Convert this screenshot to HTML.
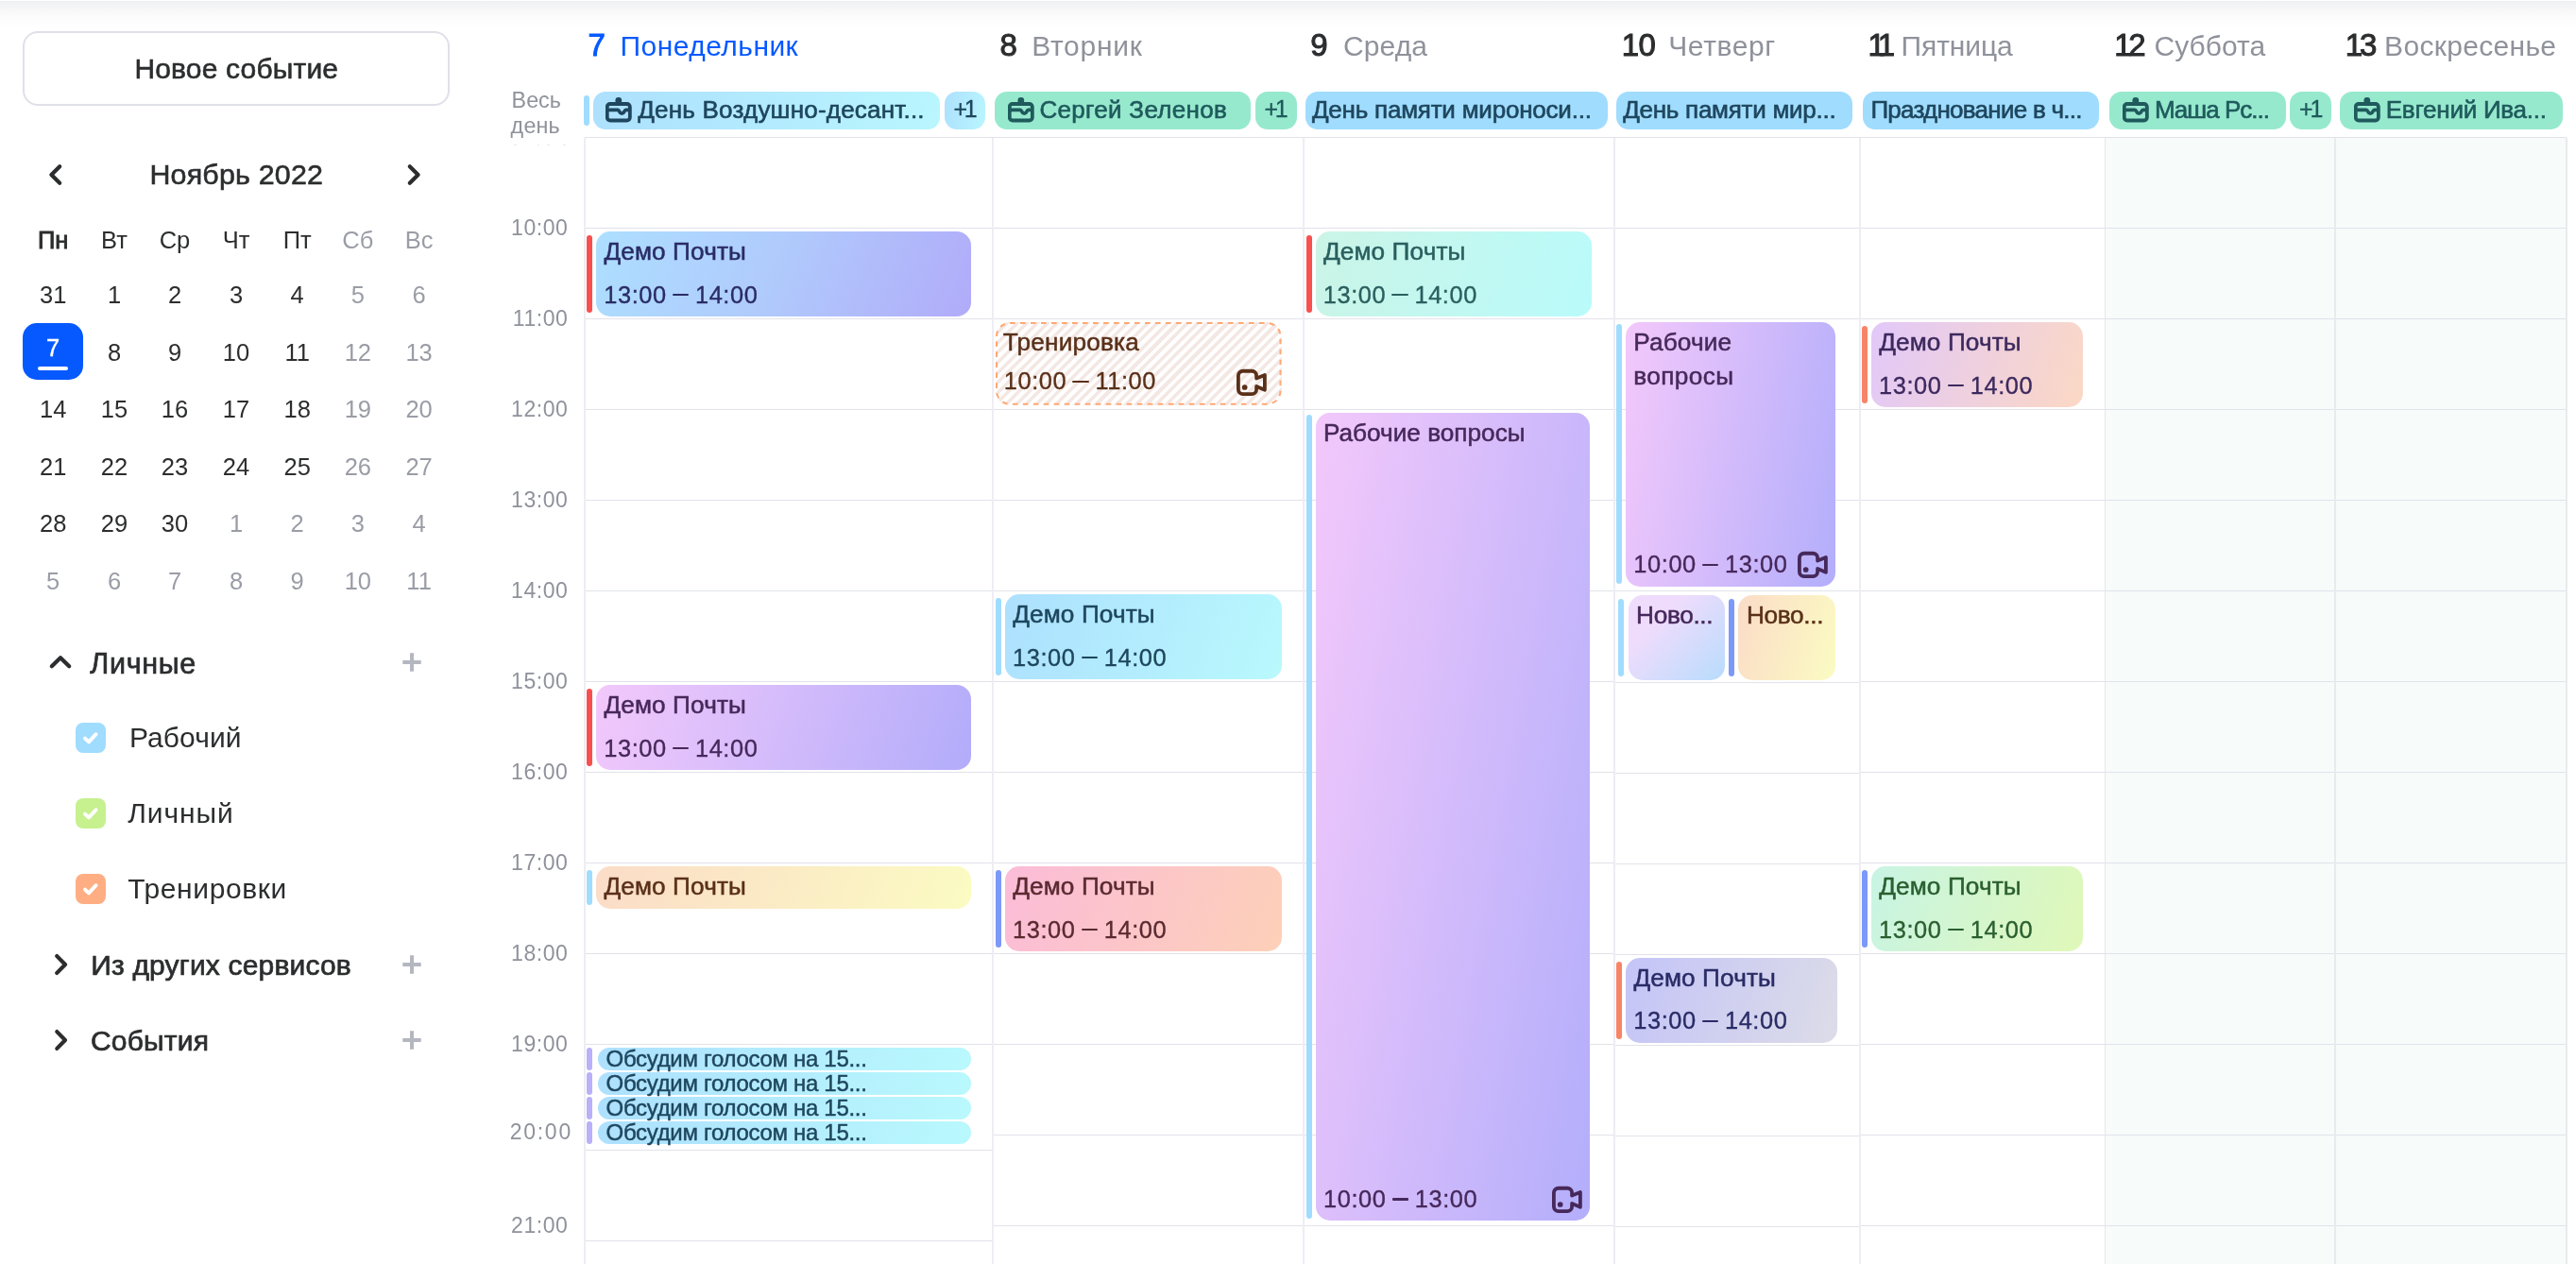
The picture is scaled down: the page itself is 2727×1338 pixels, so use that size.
<!DOCTYPE html>
<html lang="ru"><head><meta charset="utf-8"><title>Календарь</title>
<style>
html,body{margin:0;padding:0;background:#fff;}
body{width:2727px;height:1338px;position:relative;overflow:hidden;font-family:"Liberation Sans",sans-serif;}
#app{position:absolute;left:0;top:0;width:2727px;height:1338px;overflow:hidden;background:#fff;will-change:transform;}
.b{position:absolute;display:block;}
.t{position:absolute;white-space:nowrap;}
.d{display:inline-block;width:17.4px;height:2.3px;margin:0 6.6px 0 6.2px;background:currentColor;vertical-align:0.29em;border-radius:1px;}
</style></head><body>
<div id="app">
<div class="b" style="left:0.00px;top:1.00px;width:2727.00px;height:28.00px;background:linear-gradient(180deg,#eff0f1 0%,#f3f4f5 15%,#f7f7f8 33%,#fbfbfb 54%,#fdfdfd 80%,#ffffff 100%);"></div>
<div class="b" style="left:24.00px;top:33.00px;width:452.00px;height:79.00px;box-sizing:border-box;border:2px solid #dfe0e8;border-radius:16px;background:#fff;"></div>
<div class="t" style="top:57.61px;font-size:30px;line-height:30px;color:#2c2d2e;-webkit-text-stroke:0.6px #2c2d2e;letter-spacing:0.166px;left:-249.72px;width:1000px;text-align:center;">Новое событие</div>
<div class="t" style="top:169.27px;font-size:30.4px;line-height:30.4px;color:#2c2d2e;-webkit-text-stroke:0.6px #2c2d2e;letter-spacing:0.207px;left:-249.70px;width:1000px;text-align:center;">Ноябрь 2022</div>
<svg class="b" style="left:46px;top:171px" width="26" height="28" viewBox="0 0 26 28"><path d="M17.2 5.3 L8.4 14 L17.2 22.7" fill="none" stroke="#2c2d2e" stroke-width="4.2" stroke-linecap="round" stroke-linejoin="round"/></svg>
<svg class="b" style="left:425px;top:171px" width="26" height="28" viewBox="0 0 26 28"><path d="M8.8 5.3 L17.6 14 L8.8 22.7" fill="none" stroke="#2c2d2e" stroke-width="4.2" stroke-linecap="round" stroke-linejoin="round"/></svg>
<div class="t" style="top:241.61px;font-size:25.5px;line-height:25.5px;color:#2c2d2e;-webkit-text-stroke:0.9px #2c2d2e;left:-443.80px;width:1000px;text-align:center;">Пн</div>
<div class="t" style="top:241.61px;font-size:25.5px;line-height:25.5px;color:#2c2d2e;left:-379.00px;width:1000px;text-align:center;">Вт</div>
<div class="t" style="top:241.61px;font-size:25.5px;line-height:25.5px;color:#2c2d2e;left:-315.00px;width:1000px;text-align:center;">Ср</div>
<div class="t" style="top:241.61px;font-size:25.5px;line-height:25.5px;color:#2c2d2e;left:-250.00px;width:1000px;text-align:center;">Чт</div>
<div class="t" style="top:241.61px;font-size:25.5px;line-height:25.5px;color:#2c2d2e;left:-185.30px;width:1000px;text-align:center;">Пт</div>
<div class="t" style="top:241.61px;font-size:25.5px;line-height:25.5px;color:#9a9da6;left:-121.20px;width:1000px;text-align:center;">Сб</div>
<div class="t" style="top:241.61px;font-size:25.5px;line-height:25.5px;color:#9a9da6;left:-56.40px;width:1000px;text-align:center;">Вс</div>
<div class="b" style="left:24.00px;top:342.00px;width:64.00px;height:60.00px;background:#0559ff;border-radius:15px;"></div>
<div class="b" style="left:40.00px;top:388.00px;width:32.00px;height:3.50px;background:#fff;border-radius:2px;"></div>
<div class="t" style="top:300.01px;font-size:25.5px;line-height:25.5px;color:#2c2d2e;left:-443.80px;width:1000px;text-align:center;">31</div>
<div class="t" style="top:300.01px;font-size:25.5px;line-height:25.5px;color:#2c2d2e;left:-379.00px;width:1000px;text-align:center;">1</div>
<div class="t" style="top:300.01px;font-size:25.5px;line-height:25.5px;color:#2c2d2e;left:-315.00px;width:1000px;text-align:center;">2</div>
<div class="t" style="top:300.01px;font-size:25.5px;line-height:25.5px;color:#2c2d2e;left:-250.00px;width:1000px;text-align:center;">3</div>
<div class="t" style="top:300.01px;font-size:25.5px;line-height:25.5px;color:#2c2d2e;left:-185.30px;width:1000px;text-align:center;">4</div>
<div class="t" style="top:300.01px;font-size:25.5px;line-height:25.5px;color:#9a9da6;left:-121.20px;width:1000px;text-align:center;">5</div>
<div class="t" style="top:300.01px;font-size:25.5px;line-height:25.5px;color:#9a9da6;left:-56.40px;width:1000px;text-align:center;">6</div>
<div class="t" style="top:356.01px;font-size:25.5px;line-height:25.5px;color:#ffffff;-webkit-text-stroke:0.4px #ffffff;left:-443.80px;width:1000px;text-align:center;">7</div>
<div class="t" style="top:360.51px;font-size:25.5px;line-height:25.5px;color:#2c2d2e;left:-379.00px;width:1000px;text-align:center;">8</div>
<div class="t" style="top:360.51px;font-size:25.5px;line-height:25.5px;color:#2c2d2e;left:-315.00px;width:1000px;text-align:center;">9</div>
<div class="t" style="top:360.51px;font-size:25.5px;line-height:25.5px;color:#2c2d2e;left:-250.00px;width:1000px;text-align:center;">10</div>
<div class="t" style="top:360.51px;font-size:25.5px;line-height:25.5px;color:#2c2d2e;left:-185.30px;width:1000px;text-align:center;">11</div>
<div class="t" style="top:360.51px;font-size:25.5px;line-height:25.5px;color:#9a9da6;left:-121.20px;width:1000px;text-align:center;">12</div>
<div class="t" style="top:360.51px;font-size:25.5px;line-height:25.5px;color:#9a9da6;left:-56.40px;width:1000px;text-align:center;">13</div>
<div class="t" style="top:421.01px;font-size:25.5px;line-height:25.5px;color:#2c2d2e;left:-443.80px;width:1000px;text-align:center;">14</div>
<div class="t" style="top:421.01px;font-size:25.5px;line-height:25.5px;color:#2c2d2e;left:-379.00px;width:1000px;text-align:center;">15</div>
<div class="t" style="top:421.01px;font-size:25.5px;line-height:25.5px;color:#2c2d2e;left:-315.00px;width:1000px;text-align:center;">16</div>
<div class="t" style="top:421.01px;font-size:25.5px;line-height:25.5px;color:#2c2d2e;left:-250.00px;width:1000px;text-align:center;">17</div>
<div class="t" style="top:421.01px;font-size:25.5px;line-height:25.5px;color:#2c2d2e;left:-185.30px;width:1000px;text-align:center;">18</div>
<div class="t" style="top:421.01px;font-size:25.5px;line-height:25.5px;color:#9a9da6;left:-121.20px;width:1000px;text-align:center;">19</div>
<div class="t" style="top:421.01px;font-size:25.5px;line-height:25.5px;color:#9a9da6;left:-56.40px;width:1000px;text-align:center;">20</div>
<div class="t" style="top:481.51px;font-size:25.5px;line-height:25.5px;color:#2c2d2e;left:-443.80px;width:1000px;text-align:center;">21</div>
<div class="t" style="top:481.51px;font-size:25.5px;line-height:25.5px;color:#2c2d2e;left:-379.00px;width:1000px;text-align:center;">22</div>
<div class="t" style="top:481.51px;font-size:25.5px;line-height:25.5px;color:#2c2d2e;left:-315.00px;width:1000px;text-align:center;">23</div>
<div class="t" style="top:481.51px;font-size:25.5px;line-height:25.5px;color:#2c2d2e;left:-250.00px;width:1000px;text-align:center;">24</div>
<div class="t" style="top:481.51px;font-size:25.5px;line-height:25.5px;color:#2c2d2e;left:-185.30px;width:1000px;text-align:center;">25</div>
<div class="t" style="top:481.51px;font-size:25.5px;line-height:25.5px;color:#9a9da6;left:-121.20px;width:1000px;text-align:center;">26</div>
<div class="t" style="top:481.51px;font-size:25.5px;line-height:25.5px;color:#9a9da6;left:-56.40px;width:1000px;text-align:center;">27</div>
<div class="t" style="top:542.01px;font-size:25.5px;line-height:25.5px;color:#2c2d2e;left:-443.80px;width:1000px;text-align:center;">28</div>
<div class="t" style="top:542.01px;font-size:25.5px;line-height:25.5px;color:#2c2d2e;left:-379.00px;width:1000px;text-align:center;">29</div>
<div class="t" style="top:542.01px;font-size:25.5px;line-height:25.5px;color:#2c2d2e;left:-315.00px;width:1000px;text-align:center;">30</div>
<div class="t" style="top:542.01px;font-size:25.5px;line-height:25.5px;color:#9a9da6;left:-250.00px;width:1000px;text-align:center;">1</div>
<div class="t" style="top:542.01px;font-size:25.5px;line-height:25.5px;color:#9a9da6;left:-185.30px;width:1000px;text-align:center;">2</div>
<div class="t" style="top:542.01px;font-size:25.5px;line-height:25.5px;color:#9a9da6;left:-121.20px;width:1000px;text-align:center;">3</div>
<div class="t" style="top:542.01px;font-size:25.5px;line-height:25.5px;color:#9a9da6;left:-56.40px;width:1000px;text-align:center;">4</div>
<div class="t" style="top:602.51px;font-size:25.5px;line-height:25.5px;color:#9a9da6;left:-443.80px;width:1000px;text-align:center;">5</div>
<div class="t" style="top:602.51px;font-size:25.5px;line-height:25.5px;color:#9a9da6;left:-379.00px;width:1000px;text-align:center;">6</div>
<div class="t" style="top:602.51px;font-size:25.5px;line-height:25.5px;color:#9a9da6;left:-315.00px;width:1000px;text-align:center;">7</div>
<div class="t" style="top:602.51px;font-size:25.5px;line-height:25.5px;color:#9a9da6;left:-250.00px;width:1000px;text-align:center;">8</div>
<div class="t" style="top:602.51px;font-size:25.5px;line-height:25.5px;color:#9a9da6;left:-185.30px;width:1000px;text-align:center;">9</div>
<div class="t" style="top:602.51px;font-size:25.5px;line-height:25.5px;color:#9a9da6;left:-121.20px;width:1000px;text-align:center;">10</div>
<div class="t" style="top:602.51px;font-size:25.5px;line-height:25.5px;color:#9a9da6;left:-56.40px;width:1000px;text-align:center;">11</div>
<svg class="b" style="left:50px;top:686.9px" width="28" height="28" viewBox="0 0 28 28"><path d="M4.8 18.3 L14 9.2 L23.2 18.3" fill="none" stroke="#2c2d2e" stroke-width="4.2" stroke-linecap="round" stroke-linejoin="round"/></svg>
<div class="t" style="top:686.78px;font-size:30.5px;line-height:30.5px;color:#2c2d2e;-webkit-text-stroke:0.7px #2c2d2e;letter-spacing:0.652px;left:95.33px;">Личные</div>
<svg class="b" style="left:423.7px;top:689px" width="24" height="24" viewBox="0 0 24 24"><path d="M12 2.3 V21.7 M2.3 12 H21.7" fill="none" stroke="#b4b6c0" stroke-width="4" stroke-linecap="butt"/></svg>
<div class="b" style="left:80.00px;top:765.00px;width:32.00px;height:32.00px;background:#a0dcfe;border-radius:8px;"></div>
<svg class="b" style="left:80px;top:765px" width="32" height="32" viewBox="0 0 32 32"><path d="M10 16.6 L14 20.4 L21.6 12.2" fill="none" stroke="#fff" stroke-width="3.9" stroke-linecap="round" stroke-linejoin="round"/></svg>
<div class="t" style="top:765.61px;font-size:30px;line-height:30px;color:#2c2d2e;letter-spacing:0.091px;left:136.95px;">Рабочий</div>
<div class="b" style="left:80.00px;top:845.00px;width:32.00px;height:32.00px;background:#c6f18e;border-radius:8px;"></div>
<svg class="b" style="left:80px;top:845px" width="32" height="32" viewBox="0 0 32 32"><path d="M10 16.6 L14 20.4 L21.6 12.2" fill="none" stroke="#fff" stroke-width="3.9" stroke-linecap="round" stroke-linejoin="round"/></svg>
<div class="t" style="top:845.61px;font-size:30px;line-height:30px;color:#2c2d2e;letter-spacing:0.887px;left:135.25px;">Личный</div>
<div class="b" style="left:80.00px;top:925.00px;width:32.00px;height:32.00px;background:#ffae84;border-radius:8px;"></div>
<svg class="b" style="left:80px;top:925px" width="32" height="32" viewBox="0 0 32 32"><path d="M10 16.6 L14 20.4 L21.6 12.2" fill="none" stroke="#fff" stroke-width="3.9" stroke-linecap="round" stroke-linejoin="round"/></svg>
<div class="t" style="top:925.61px;font-size:30px;line-height:30px;color:#2c2d2e;letter-spacing:0.619px;left:135.25px;">Тренировки</div>
<svg class="b" style="left:50px;top:1007px" width="28" height="28" viewBox="0 0 28 28"><path d="M10.3 5.1 L19 14 L10.3 22.9" fill="none" stroke="#2c2d2e" stroke-width="4.2" stroke-linecap="round" stroke-linejoin="round"/></svg>
<div class="t" style="top:1006.61px;font-size:30px;line-height:30px;color:#2c2d2e;-webkit-text-stroke:0.7px #2c2d2e;letter-spacing:0.173px;left:96.25px;">Из других сервисов</div>
<svg class="b" style="left:423.7px;top:1009px" width="24" height="24" viewBox="0 0 24 24"><path d="M12 2.3 V21.7 M2.3 12 H21.7" fill="none" stroke="#b4b6c0" stroke-width="4" stroke-linecap="butt"/></svg>
<svg class="b" style="left:50px;top:1087px" width="28" height="28" viewBox="0 0 28 28"><path d="M10.3 5.1 L19 14 L10.3 22.9" fill="none" stroke="#2c2d2e" stroke-width="4.2" stroke-linecap="round" stroke-linejoin="round"/></svg>
<div class="t" style="top:1086.61px;font-size:30px;line-height:30px;color:#2c2d2e;-webkit-text-stroke:0.7px #2c2d2e;letter-spacing:0.210px;left:95.95px;">События</div>
<svg class="b" style="left:423.7px;top:1089px" width="24" height="24" viewBox="0 0 24 24"><path d="M12 2.3 V21.7 M2.3 12 H21.7" fill="none" stroke="#b4b6c0" stroke-width="4" stroke-linecap="butt"/></svg>
<div class="b" style="left:2228.00px;top:145.50px;width:488.50px;height:1192.50px;background:#f7fbfa;"></div>
<div class="b" style="left:619.00px;top:144.75px;width:432.00px;height:1.50px;background:#e2e3ea;"></div>
<div class="b" style="left:1051.00px;top:144.75px;width:657.50px;height:1.50px;background:#e2e3ea;"></div>
<div class="b" style="left:1708.50px;top:144.75px;width:260.00px;height:1.50px;background:#e2e3ea;"></div>
<div class="b" style="left:1968.50px;top:144.75px;width:748.00px;height:1.50px;background:#e2e3ea;"></div>
<div class="b" style="left:619.00px;top:240.75px;width:432.00px;height:1.50px;background:#e2e3ea;"></div>
<div class="b" style="left:1051.00px;top:240.75px;width:657.50px;height:1.50px;background:#e2e3ea;"></div>
<div class="b" style="left:1708.50px;top:240.75px;width:260.00px;height:1.50px;background:#e2e3ea;"></div>
<div class="b" style="left:1968.50px;top:240.75px;width:748.00px;height:1.50px;background:#e2e3ea;"></div>
<div class="b" style="left:619.00px;top:336.75px;width:432.00px;height:1.50px;background:#e2e3ea;"></div>
<div class="b" style="left:1051.00px;top:336.75px;width:657.50px;height:1.50px;background:#e2e3ea;"></div>
<div class="b" style="left:1708.50px;top:336.75px;width:260.00px;height:1.50px;background:#e2e3ea;"></div>
<div class="b" style="left:1968.50px;top:336.75px;width:748.00px;height:1.50px;background:#e2e3ea;"></div>
<div class="b" style="left:619.00px;top:432.75px;width:432.00px;height:1.50px;background:#e2e3ea;"></div>
<div class="b" style="left:1051.00px;top:432.75px;width:657.50px;height:1.50px;background:#e2e3ea;"></div>
<div class="b" style="left:1708.50px;top:432.75px;width:260.00px;height:1.50px;background:#e2e3ea;"></div>
<div class="b" style="left:1968.50px;top:432.75px;width:748.00px;height:1.50px;background:#e2e3ea;"></div>
<div class="b" style="left:619.00px;top:528.75px;width:432.00px;height:1.50px;background:#e2e3ea;"></div>
<div class="b" style="left:1051.00px;top:528.75px;width:657.50px;height:1.50px;background:#e2e3ea;"></div>
<div class="b" style="left:1708.50px;top:528.75px;width:260.00px;height:1.50px;background:#e2e3ea;"></div>
<div class="b" style="left:1968.50px;top:528.75px;width:748.00px;height:1.50px;background:#e2e3ea;"></div>
<div class="b" style="left:619.00px;top:624.75px;width:432.00px;height:1.50px;background:#e2e3ea;"></div>
<div class="b" style="left:1051.00px;top:624.75px;width:657.50px;height:1.50px;background:#e2e3ea;"></div>
<div class="b" style="left:1708.50px;top:624.75px;width:260.00px;height:1.50px;background:#e2e3ea;"></div>
<div class="b" style="left:1968.50px;top:624.75px;width:748.00px;height:1.50px;background:#e2e3ea;"></div>
<div class="b" style="left:619.00px;top:720.75px;width:432.00px;height:1.50px;background:#e2e3ea;"></div>
<div class="b" style="left:1051.00px;top:720.75px;width:657.50px;height:1.50px;background:#e2e3ea;"></div>
<div class="b" style="left:1708.50px;top:721.75px;width:260.00px;height:1.50px;background:#e2e3ea;"></div>
<div class="b" style="left:1968.50px;top:720.75px;width:748.00px;height:1.50px;background:#e2e3ea;"></div>
<div class="b" style="left:619.00px;top:816.75px;width:432.00px;height:1.50px;background:#e2e3ea;"></div>
<div class="b" style="left:1051.00px;top:816.75px;width:657.50px;height:1.50px;background:#e2e3ea;"></div>
<div class="b" style="left:1708.50px;top:817.75px;width:260.00px;height:1.50px;background:#e2e3ea;"></div>
<div class="b" style="left:1968.50px;top:816.75px;width:748.00px;height:1.50px;background:#e2e3ea;"></div>
<div class="b" style="left:619.00px;top:912.75px;width:432.00px;height:1.50px;background:#e2e3ea;"></div>
<div class="b" style="left:1051.00px;top:912.75px;width:657.50px;height:1.50px;background:#e2e3ea;"></div>
<div class="b" style="left:1708.50px;top:913.75px;width:260.00px;height:1.50px;background:#e2e3ea;"></div>
<div class="b" style="left:1968.50px;top:912.75px;width:748.00px;height:1.50px;background:#e2e3ea;"></div>
<div class="b" style="left:619.00px;top:1008.75px;width:432.00px;height:1.50px;background:#e2e3ea;"></div>
<div class="b" style="left:1051.00px;top:1008.75px;width:657.50px;height:1.50px;background:#e2e3ea;"></div>
<div class="b" style="left:1708.50px;top:1009.75px;width:260.00px;height:1.50px;background:#e2e3ea;"></div>
<div class="b" style="left:1968.50px;top:1008.75px;width:748.00px;height:1.50px;background:#e2e3ea;"></div>
<div class="b" style="left:619.00px;top:1104.75px;width:432.00px;height:1.50px;background:#e2e3ea;"></div>
<div class="b" style="left:1051.00px;top:1104.75px;width:657.50px;height:1.50px;background:#e2e3ea;"></div>
<div class="b" style="left:1708.50px;top:1105.75px;width:260.00px;height:1.50px;background:#e2e3ea;"></div>
<div class="b" style="left:1968.50px;top:1104.75px;width:748.00px;height:1.50px;background:#e2e3ea;"></div>
<div class="b" style="left:1051.00px;top:1200.75px;width:657.50px;height:1.50px;background:#e2e3ea;"></div>
<div class="b" style="left:1708.50px;top:1201.75px;width:260.00px;height:1.50px;background:#e2e3ea;"></div>
<div class="b" style="left:1968.50px;top:1200.75px;width:748.00px;height:1.50px;background:#e2e3ea;"></div>
<div class="b" style="left:1051.00px;top:1296.75px;width:657.50px;height:1.50px;background:#e2e3ea;"></div>
<div class="b" style="left:1708.50px;top:1297.75px;width:260.00px;height:1.50px;background:#e2e3ea;"></div>
<div class="b" style="left:1968.50px;top:1296.75px;width:748.00px;height:1.50px;background:#e2e3ea;"></div>
<div class="b" style="left:619.00px;top:1216.75px;width:432.00px;height:1.50px;background:#e2e3ea;"></div>
<div class="b" style="left:619.00px;top:1312.75px;width:432.00px;height:1.50px;background:#e2e3ea;"></div>
<div class="b" style="left:618.00px;top:145.50px;width:2.00px;height:1192.50px;background:#ededf3;"></div>
<div class="b" style="left:1050.00px;top:145.50px;width:2.00px;height:1192.50px;background:#ededf3;"></div>
<div class="b" style="left:1379.00px;top:145.50px;width:2.00px;height:1192.50px;background:#ededf3;"></div>
<div class="b" style="left:1707.50px;top:145.50px;width:2.00px;height:1192.50px;background:#ededf3;"></div>
<div class="b" style="left:1967.50px;top:145.50px;width:2.00px;height:1192.50px;background:#ededf3;"></div>
<div class="b" style="left:2228.00px;top:145.50px;width:1.20px;height:1192.50px;background:#e3e7ea;"></div>
<div class="b" style="left:2471.00px;top:145.50px;width:2.00px;height:1192.50px;background:#e8ebee;"></div>
<div class="b" style="left:2715.50px;top:145.50px;width:2.00px;height:1192.50px;background:#e8ebee;"></div>
<div class="t" style="top:94.88px;font-size:23.3px;line-height:23.3px;color:#8f929b;left:541.60px;">Весь</div>
<div class="t" style="top:122.28px;font-size:23.3px;line-height:23.3px;color:#8f929b;letter-spacing:0.200px;left:540.60px;">день</div>
<div class="b" style="left:543.80px;top:153.00px;width:3.00px;height:1.20px;background:#e6e7ea;border-radius:1px;"></div>
<div class="b" style="left:569.40px;top:153.00px;width:1.60px;height:1.20px;background:#e6e7ea;border-radius:1px;"></div>
<div class="b" style="left:579.40px;top:153.00px;width:3.00px;height:1.20px;background:#e6e7ea;border-radius:1px;"></div>
<div class="b" style="left:595.90px;top:153.00px;width:3.00px;height:1.20px;background:#e6e7ea;border-radius:1px;"></div>
<div class="t" style="top:230.13px;font-size:23px;line-height:23px;color:#8f929b;letter-spacing:0.550px;left:-398.65px;width:1000px;text-align:right;">10:00</div>
<div class="t" style="top:326.13px;font-size:23px;line-height:23px;color:#8f929b;letter-spacing:0.550px;left:-398.65px;width:1000px;text-align:right;">11:00</div>
<div class="t" style="top:422.13px;font-size:23px;line-height:23px;color:#8f929b;letter-spacing:0.550px;left:-398.65px;width:1000px;text-align:right;">12:00</div>
<div class="t" style="top:518.13px;font-size:23px;line-height:23px;color:#8f929b;letter-spacing:0.550px;left:-398.65px;width:1000px;text-align:right;">13:00</div>
<div class="t" style="top:614.13px;font-size:23px;line-height:23px;color:#8f929b;letter-spacing:0.550px;left:-398.65px;width:1000px;text-align:right;">14:00</div>
<div class="t" style="top:710.13px;font-size:23px;line-height:23px;color:#8f929b;letter-spacing:0.550px;left:-398.65px;width:1000px;text-align:right;">15:00</div>
<div class="t" style="top:806.13px;font-size:23px;line-height:23px;color:#8f929b;letter-spacing:0.550px;left:-398.65px;width:1000px;text-align:right;">16:00</div>
<div class="t" style="top:902.13px;font-size:23px;line-height:23px;color:#8f929b;letter-spacing:0.550px;left:-398.65px;width:1000px;text-align:right;">17:00</div>
<div class="t" style="top:998.13px;font-size:23px;line-height:23px;color:#8f929b;letter-spacing:0.550px;left:-398.65px;width:1000px;text-align:right;">18:00</div>
<div class="t" style="top:1094.13px;font-size:23px;line-height:23px;color:#8f929b;letter-spacing:0.550px;left:-398.65px;width:1000px;text-align:right;">19:00</div>
<div class="t" style="top:1187.23px;font-size:23px;line-height:23px;color:#8f929b;letter-spacing:1.750px;left:-394.05px;width:1000px;text-align:right;">20:00</div>
<div class="t" style="top:1286.13px;font-size:23px;line-height:23px;color:#8f929b;letter-spacing:0.550px;left:-398.65px;width:1000px;text-align:right;">21:00</div>
<div class="t" style="top:30.97px;font-size:33px;line-height:33px;color:#0559ff;-webkit-text-stroke:1.0px #0559ff;left:622.45px;">7</div>
<div class="t" style="top:33.50px;font-size:30px;line-height:30px;color:#0559ff;letter-spacing:0.458px;left:656.55px;">Понедельник</div>
<div class="t" style="top:30.97px;font-size:33px;line-height:33px;color:#2c2d2e;-webkit-text-stroke:1.0px #2c2d2e;left:1058.55px;">8</div>
<div class="t" style="top:33.50px;font-size:30px;line-height:30px;color:#8f929b;letter-spacing:0.744px;left:1092.15px;">Вторник</div>
<div class="t" style="top:30.97px;font-size:33px;line-height:33px;color:#2c2d2e;-webkit-text-stroke:1.0px #2c2d2e;left:1387.35px;">9</div>
<div class="t" style="top:33.50px;font-size:30px;line-height:30px;color:#8f929b;letter-spacing:0.134px;left:1421.95px;">Среда</div>
<div class="t" style="top:30.97px;font-size:33px;line-height:33px;color:#2c2d2e;-webkit-text-stroke:1.0px #2c2d2e;letter-spacing:-0.397px;left:1716.64px;">10</div>
<div class="t" style="top:33.50px;font-size:30px;line-height:30px;color:#8f929b;letter-spacing:0.611px;left:1766.25px;">Четверг</div>
<div class="t" style="top:30.97px;font-size:33px;line-height:33px;color:#2c2d2e;-webkit-text-stroke:1.0px #2c2d2e;letter-spacing:-5.600px;left:1977.44px;">11</div>
<div class="t" style="top:33.50px;font-size:30px;line-height:30px;color:#8f929b;letter-spacing:-0.091px;left:2012.55px;">Пятница</div>
<div class="t" style="top:30.97px;font-size:33px;line-height:33px;color:#2c2d2e;-webkit-text-stroke:1.0px #2c2d2e;letter-spacing:-3.200px;left:2238.14px;">12</div>
<div class="t" style="top:33.50px;font-size:30px;line-height:30px;color:#8f929b;letter-spacing:0.020px;left:2280.55px;">Суббота</div>
<div class="t" style="top:30.97px;font-size:33px;line-height:33px;color:#2c2d2e;-webkit-text-stroke:1.0px #2c2d2e;letter-spacing:-3.200px;left:2482.84px;">13</div>
<div class="t" style="top:33.50px;font-size:30px;line-height:30px;color:#8f929b;letter-spacing:0.324px;left:2524.05px;">Воскресенье</div>
<div class="b" style="left:617.90px;top:101.00px;width:6.20px;height:32.00px;background:#a0dcfe;border-radius:3px;"></div>
<div class="b" style="left:627.90px;top:97.00px;width:367.30px;height:40.00px;background:linear-gradient(100deg,#ade0fe 0%,#b9f6fe 100%);border-radius:13px;"></div>
<svg class="b" style="left:641.20px;top:103.00px" width="28" height="27" viewBox="0 0 28 27"><circle cx="13.8" cy="3.4" r="3.4" fill="#1e465e"/><rect x="1.75" y="7" width="24.1" height="17.5" rx="3.2" fill="none" stroke="#1e465e" stroke-width="3.8"/><path d="M1.75 13.4 H13 C15 13.4 14.5 17.2 17.3 17.2 C20.1 17.2 19.6 13.4 21.6 13.4 H26" fill="none" stroke="#1e465e" stroke-width="3.7" stroke-linejoin="round"/></svg>
<div class="t" style="top:102.69px;font-size:26px;line-height:26px;color:#1e465e;-webkit-text-stroke:0.6px #1e465e;letter-spacing:0.209px;left:675.29px;">День Воздушно-десант...</div>
<div class="b" style="left:999.70px;top:97.00px;width:43.70px;height:40.00px;background:linear-gradient(100deg,#ade0fe 0%,#b9f6fe 100%);border-radius:13px;"></div>
<div class="t" style="top:103.34px;font-size:25px;line-height:25px;color:#1e465e;-webkit-text-stroke:0.3px #1e465e;letter-spacing:-3.200px;left:520.45px;width:1000px;text-align:center;">+1</div>
<div class="b" style="left:1052.80px;top:97.00px;width:271.40px;height:40.00px;background:#97e9ce;border-radius:13px;"></div>
<svg class="b" style="left:1067.00px;top:103.00px" width="28" height="27" viewBox="0 0 28 27"><circle cx="13.8" cy="3.4" r="3.4" fill="#1f5a5c"/><rect x="1.75" y="7" width="24.1" height="17.5" rx="3.2" fill="none" stroke="#1f5a5c" stroke-width="3.8"/><path d="M1.75 13.4 H13 C15 13.4 14.5 17.2 17.3 17.2 C20.1 17.2 19.6 13.4 21.6 13.4 H26" fill="none" stroke="#1f5a5c" stroke-width="3.7" stroke-linejoin="round"/></svg>
<div class="t" style="top:102.69px;font-size:26px;line-height:26px;color:#1f5a5c;-webkit-text-stroke:0.6px #1f5a5c;letter-spacing:0.311px;left:1100.39px;">Сергей Зеленов</div>
<div class="b" style="left:1328.60px;top:97.00px;width:44.00px;height:40.00px;background:#97e9ce;border-radius:13px;"></div>
<div class="t" style="top:103.34px;font-size:25px;line-height:25px;color:#1f5a5c;-webkit-text-stroke:0.3px #1f5a5c;letter-spacing:-3.200px;left:849.50px;width:1000px;text-align:center;">+1</div>
<div class="b" style="left:1382.00px;top:97.00px;width:319.70px;height:40.00px;background:#a0dcfe;border-radius:13px;"></div>
<div class="t" style="top:102.69px;font-size:26px;line-height:26px;color:#1e465e;-webkit-text-stroke:0.6px #1e465e;letter-spacing:-0.212px;left:1388.89px;">День памяти мироноси...</div>
<div class="b" style="left:1711.00px;top:97.00px;width:250.00px;height:40.00px;background:#a0dcfe;border-radius:13px;"></div>
<div class="t" style="top:102.69px;font-size:26px;line-height:26px;color:#1e465e;-webkit-text-stroke:0.6px #1e465e;letter-spacing:-0.262px;left:1718.19px;">День памяти мир...</div>
<div class="b" style="left:1971.70px;top:97.00px;width:250.10px;height:40.00px;background:#a0dcfe;border-radius:13px;"></div>
<div class="t" style="top:102.69px;font-size:26px;line-height:26px;color:#1e465e;-webkit-text-stroke:0.6px #1e465e;letter-spacing:-0.746px;left:1980.39px;">Празднование в ч...</div>
<div class="b" style="left:2232.50px;top:97.00px;width:187.50px;height:40.00px;background:#97e9ce;border-radius:13px;"></div>
<svg class="b" style="left:2246.70px;top:103.00px" width="28" height="27" viewBox="0 0 28 27"><circle cx="13.8" cy="3.4" r="3.4" fill="#1f5a5c"/><rect x="1.75" y="7" width="24.1" height="17.5" rx="3.2" fill="none" stroke="#1f5a5c" stroke-width="3.8"/><path d="M1.75 13.4 H13 C15 13.4 14.5 17.2 17.3 17.2 C20.1 17.2 19.6 13.4 21.6 13.4 H26" fill="none" stroke="#1f5a5c" stroke-width="3.7" stroke-linejoin="round"/></svg>
<div class="t" style="top:102.69px;font-size:26px;line-height:26px;color:#1f5a5c;-webkit-text-stroke:0.6px #1f5a5c;letter-spacing:-0.983px;left:2280.89px;">Маша Рс...</div>
<div class="b" style="left:2424.20px;top:97.00px;width:44.00px;height:40.00px;background:#97e9ce;border-radius:13px;"></div>
<div class="t" style="top:103.34px;font-size:25px;line-height:25px;color:#1f5a5c;-webkit-text-stroke:0.3px #1f5a5c;letter-spacing:-3.200px;left:1945.10px;width:1000px;text-align:center;">+1</div>
<div class="b" style="left:2477.30px;top:97.00px;width:236.10px;height:40.00px;background:#97e9ce;border-radius:13px;"></div>
<svg class="b" style="left:2491.50px;top:103.00px" width="28" height="27" viewBox="0 0 28 27"><circle cx="13.8" cy="3.4" r="3.4" fill="#1f5a5c"/><rect x="1.75" y="7" width="24.1" height="17.5" rx="3.2" fill="none" stroke="#1f5a5c" stroke-width="3.8"/><path d="M1.75 13.4 H13 C15 13.4 14.5 17.2 17.3 17.2 C20.1 17.2 19.6 13.4 21.6 13.4 H26" fill="none" stroke="#1f5a5c" stroke-width="3.7" stroke-linejoin="round"/></svg>
<div class="t" style="top:102.69px;font-size:26px;line-height:26px;color:#1f5a5c;-webkit-text-stroke:0.6px #1f5a5c;letter-spacing:-0.252px;left:2525.79px;">Евгений Ива...</div>
<div class="b" style="left:621.30px;top:249.00px;width:6.00px;height:81.80px;background:#f8504f;border-radius:3px;"></div>
<div class="b" style="left:631.20px;top:245.00px;width:397.30px;height:89.80px;background:linear-gradient(112deg,#addfff 0%,#b0c9fc 50%,#b1abf9 100%);border-radius:15px;"></div>
<div class="t" style="top:252.52px;font-size:26.2px;line-height:26.2px;color:#2a2c66;-webkit-text-stroke:0.5px #2a2c66;letter-spacing:0.116px;left:639.38px;">Демо Почты</div>
<div class="t" style="left:639.20px;top:299.50px;font-size:25.4px;line-height:25.4px;color:#2a2c66;-webkit-text-stroke:0.35px #2a2c66;letter-spacing:0.6px;">13:00<i class="d"></i>14:00</div>
<div class="b" style="left:621.30px;top:729.00px;width:6.00px;height:81.80px;background:#f8504f;border-radius:3px;"></div>
<div class="b" style="left:631.20px;top:725.00px;width:397.30px;height:89.80px;background:linear-gradient(110deg,#f3c8fb 0%,#d3bbfb 50%,#b2acfa 100%);border-radius:15px;"></div>
<div class="t" style="top:732.52px;font-size:26.2px;line-height:26.2px;color:#46285a;-webkit-text-stroke:0.5px #46285a;letter-spacing:0.116px;left:639.38px;">Демо Почты</div>
<div class="t" style="left:639.20px;top:779.50px;font-size:25.4px;line-height:25.4px;color:#46285a;-webkit-text-stroke:0.35px #46285a;letter-spacing:0.6px;">13:00<i class="d"></i>14:00</div>
<div class="b" style="left:621.30px;top:921.00px;width:6.00px;height:36.60px;background:#a0dcfe;border-radius:3px;"></div>
<div class="b" style="left:631.20px;top:917.00px;width:397.30px;height:44.60px;background:linear-gradient(106deg,#fbdcc8 0%,#fbfbc2 100%);border-radius:15px;"></div>
<div class="t" style="top:924.52px;font-size:26.2px;line-height:26.2px;color:#5a3019;-webkit-text-stroke:0.5px #5a3019;letter-spacing:0.116px;left:639.38px;">Демо Почты</div>
<div class="b" style="left:621.30px;top:1109.00px;width:6.00px;height:24.00px;background:#b8b0f8;border-radius:3px;"></div>
<div class="b" style="left:633.30px;top:1109.00px;width:395.20px;height:24.00px;background:linear-gradient(110deg,#ade0fe 0%,#b9f9fd 100%);border-radius:12px;"></div>
<div class="t" style="top:1108.98px;font-size:24px;line-height:24px;color:#1e465e;-webkit-text-stroke:0.45px #1e465e;letter-spacing:-0.307px;left:641.56px;">Обсудим голосом на 15...</div>
<div class="b" style="left:621.30px;top:1135.05px;width:6.00px;height:24.00px;background:#b8b0f8;border-radius:3px;"></div>
<div class="b" style="left:633.30px;top:1135.05px;width:395.20px;height:24.00px;background:linear-gradient(110deg,#ade0fe 0%,#b9f9fd 100%);border-radius:12px;"></div>
<div class="t" style="top:1135.03px;font-size:24px;line-height:24px;color:#1e465e;-webkit-text-stroke:0.45px #1e465e;letter-spacing:-0.307px;left:641.56px;">Обсудим голосом на 15...</div>
<div class="b" style="left:621.30px;top:1161.10px;width:6.00px;height:24.00px;background:#b8b0f8;border-radius:3px;"></div>
<div class="b" style="left:633.30px;top:1161.10px;width:395.20px;height:24.00px;background:linear-gradient(110deg,#ade0fe 0%,#b9f9fd 100%);border-radius:12px;"></div>
<div class="t" style="top:1161.08px;font-size:24px;line-height:24px;color:#1e465e;-webkit-text-stroke:0.45px #1e465e;letter-spacing:-0.307px;left:641.56px;">Обсудим голосом на 15...</div>
<div class="b" style="left:621.30px;top:1187.15px;width:6.00px;height:24.00px;background:#b8b0f8;border-radius:3px;"></div>
<div class="b" style="left:633.30px;top:1187.15px;width:395.20px;height:24.00px;background:linear-gradient(110deg,#ade0fe 0%,#b9f9fd 100%);border-radius:12px;"></div>
<div class="t" style="top:1187.13px;font-size:24px;line-height:24px;color:#1e465e;-webkit-text-stroke:0.45px #1e465e;letter-spacing:-0.307px;left:641.56px;">Обсудим голосом на 15...</div>
<div class="b" style="left:1054.30px;top:341.00px;width:302.50px;height:87.70px;border-radius:15px;background:repeating-linear-gradient(135deg,#f4e8e4 0px,#f4e8e4 3.6px,#ffffff 3.6px,#ffffff 7.5px);"></div>
<svg class="b" style="left:1054.3px;top:341px" width="302.5" height="87.7" viewBox="0 0 302.5 87.7"><rect x="1" y="1" width="300.5" height="85.7" rx="14" fill="none" stroke="#ffa873" stroke-width="2" stroke-dasharray="5.6 5.4"/></svg>
<div class="t" style="top:348.52px;font-size:26.2px;line-height:26.2px;color:#5a3019;-webkit-text-stroke:0.5px #5a3019;letter-spacing:0.187px;left:1061.78px;">Тренировка</div>
<div class="t" style="left:1062.70px;top:391.30px;font-size:25.4px;line-height:25.4px;color:#5a3019;-webkit-text-stroke:0.35px #5a3019;letter-spacing:0.6px;">10:00<i class="d"></i>11:00</div>
<svg class="b" style="left:1307.00px;top:389.00px" width="36" height="32" viewBox="0 0 36 32"><path d="M23.1 11.5 V8.65 A4.9 4.9 0 0 0 18.2 3.75 H8.8 A4.9 4.9 0 0 0 3.9 8.65 V23.2 A4.9 4.9 0 0 0 8.8 28.1 H18.2 A4.9 4.9 0 0 0 23.1 23.2 V20 L31.9 23.85 V8 L23.1 11.5" fill="none" stroke="#5a3019" stroke-width="3.8" stroke-linejoin="round" stroke-linecap="round"/><circle cx="10.7" cy="21" r="2.85" fill="#5a3019"/></svg>
<div class="b" style="left:1054.20px;top:633.00px;width:6.00px;height:81.80px;background:#a0dcfe;border-radius:3px;"></div>
<div class="b" style="left:1064.00px;top:629.00px;width:292.80px;height:89.80px;background:linear-gradient(110deg,#ade0fe 0%,#b9f9fd 100%);border-radius:15px;"></div>
<div class="t" style="top:636.52px;font-size:26.2px;line-height:26.2px;color:#1e465e;-webkit-text-stroke:0.5px #1e465e;letter-spacing:0.116px;left:1072.18px;">Демо Почты</div>
<div class="t" style="left:1072.00px;top:683.50px;font-size:25.4px;line-height:25.4px;color:#1e465e;-webkit-text-stroke:0.35px #1e465e;letter-spacing:0.6px;">13:00<i class="d"></i>14:00</div>
<div class="b" style="left:1054.20px;top:921.00px;width:6.00px;height:81.80px;background:#7c98f8;border-radius:3px;"></div>
<div class="b" style="left:1064.00px;top:917.00px;width:293.00px;height:89.80px;background:linear-gradient(110deg,#fbbcd8 0%,#fdd0b8 100%);border-radius:15px;"></div>
<div class="t" style="top:924.52px;font-size:26.2px;line-height:26.2px;color:#5a2a30;-webkit-text-stroke:0.5px #5a2a30;letter-spacing:0.116px;left:1072.18px;">Демо Почты</div>
<div class="t" style="left:1072.00px;top:971.50px;font-size:25.4px;line-height:25.4px;color:#5a2a30;-webkit-text-stroke:0.35px #5a2a30;letter-spacing:0.6px;">13:00<i class="d"></i>14:00</div>
<div class="b" style="left:1382.80px;top:249.00px;width:6.00px;height:81.80px;background:#f8504f;border-radius:3px;"></div>
<div class="b" style="left:1392.70px;top:245.00px;width:292.70px;height:89.80px;background:linear-gradient(110deg,#cbf4e6 0%,#b9fbfb 100%);border-radius:15px;"></div>
<div class="t" style="top:252.52px;font-size:26.2px;line-height:26.2px;color:#2a5f5f;-webkit-text-stroke:0.5px #2a5f5f;letter-spacing:0.116px;left:1400.88px;">Демо Почты</div>
<div class="t" style="left:1400.70px;top:299.50px;font-size:25.4px;line-height:25.4px;color:#2a5f5f;-webkit-text-stroke:0.35px #2a5f5f;letter-spacing:0.6px;">13:00<i class="d"></i>14:00</div>
<div class="b" style="left:1383.20px;top:439.10px;width:6.00px;height:851.20px;background:#a0dcfe;border-radius:3px;"></div>
<div class="b" style="left:1393.00px;top:437.00px;width:290.00px;height:855.40px;background:linear-gradient(100deg,#f3c8fb 0%,#b3aefb 100%);border-radius:15px;"></div>
<div class="t" style="top:444.52px;font-size:26.2px;line-height:26.2px;color:#46285a;-webkit-text-stroke:0.5px #46285a;letter-spacing:0.004px;left:1400.88px;">Рабочие вопросы</div>
<div class="t" style="left:1401.00px;top:1257.10px;font-size:25.4px;line-height:25.4px;color:#46285a;-webkit-text-stroke:0.35px #46285a;letter-spacing:0.6px;">10:00<i class="d"></i>13:00</div>
<svg class="b" style="left:1641.20px;top:1254.15px" width="36" height="32" viewBox="0 0 36 32"><path d="M23.1 11.5 V8.65 A4.9 4.9 0 0 0 18.2 3.75 H8.8 A4.9 4.9 0 0 0 3.9 8.65 V23.2 A4.9 4.9 0 0 0 8.8 28.1 H18.2 A4.9 4.9 0 0 0 23.1 23.2 V20 L31.9 23.85 V8 L23.1 11.5" fill="none" stroke="#46285a" stroke-width="3.8" stroke-linejoin="round" stroke-linecap="round"/><circle cx="10.7" cy="21" r="2.85" fill="#46285a"/></svg>
<div class="b" style="left:1711.30px;top:343.20px;width:6.00px;height:275.10px;background:#a0dcfe;border-radius:3px;"></div>
<div class="b" style="left:1721.30px;top:341.00px;width:221.90px;height:279.50px;background:linear-gradient(100deg,#f3c8fb 0%,#b3aefb 100%);border-radius:15px;"></div>
<div class="t" style="top:348.52px;font-size:26.2px;line-height:26.2px;color:#46285a;-webkit-text-stroke:0.5px #46285a;letter-spacing:0.166px;left:1729.18px;">Рабочие</div>
<div class="t" style="top:385.02px;font-size:26.2px;line-height:26.2px;color:#46285a;-webkit-text-stroke:0.5px #46285a;letter-spacing:0.396px;left:1729.18px;">вопросы</div>
<div class="t" style="left:1729.30px;top:585.20px;font-size:25.4px;line-height:25.4px;color:#46285a;-webkit-text-stroke:0.35px #46285a;letter-spacing:0.6px;">10:00<i class="d"></i>13:00</div>
<svg class="b" style="left:1901.40px;top:582.25px" width="36" height="32" viewBox="0 0 36 32"><path d="M23.1 11.5 V8.65 A4.9 4.9 0 0 0 18.2 3.75 H8.8 A4.9 4.9 0 0 0 3.9 8.65 V23.2 A4.9 4.9 0 0 0 8.8 28.1 H18.2 A4.9 4.9 0 0 0 23.1 23.2 V20 L31.9 23.85 V8 L23.1 11.5" fill="none" stroke="#46285a" stroke-width="3.8" stroke-linejoin="round" stroke-linecap="round"/><circle cx="10.7" cy="21" r="2.85" fill="#46285a"/></svg>
<div class="b" style="left:1713.20px;top:634.00px;width:6.00px;height:82.00px;background:#a0dcfe;border-radius:3px;"></div>
<div class="b" style="left:1723.50px;top:630.00px;width:102.50px;height:90.00px;background:linear-gradient(135deg,#efdcfc 30%,#b8dcfd 100%);border-radius:15px;"></div>
<div class="t" style="top:637.52px;font-size:26.2px;line-height:26.2px;color:#46285a;-webkit-text-stroke:0.5px #46285a;letter-spacing:-0.332px;left:1732.08px;">Ново...</div>
<div class="b" style="left:1830.20px;top:634.00px;width:6.00px;height:82.00px;background:#7c98f8;border-radius:3px;"></div>
<div class="b" style="left:1840.40px;top:630.00px;width:102.60px;height:90.00px;background:linear-gradient(106deg,#fbdcc8 0%,#fbfbc2 100%);border-radius:15px;"></div>
<div class="t" style="top:637.52px;font-size:26.2px;line-height:26.2px;color:#5a3019;-webkit-text-stroke:0.5px #5a3019;letter-spacing:-0.332px;left:1848.98px;">Ново...</div>
<div class="b" style="left:1711.40px;top:1018.00px;width:6.00px;height:81.60px;background:#f88468;border-radius:3px;"></div>
<div class="b" style="left:1721.20px;top:1014.00px;width:223.90px;height:89.60px;background:linear-gradient(108deg,#c4c4f8 0%,#dcdce8 100%);border-radius:15px;"></div>
<div class="t" style="top:1021.52px;font-size:26.2px;line-height:26.2px;color:#2a2c66;-webkit-text-stroke:0.5px #2a2c66;letter-spacing:0.116px;left:1729.38px;">Демо Почты</div>
<div class="t" style="left:1729.20px;top:1068.30px;font-size:25.4px;line-height:25.4px;color:#2a2c66;-webkit-text-stroke:0.35px #2a2c66;letter-spacing:0.6px;">13:00<i class="d"></i>14:00</div>
<div class="b" style="left:1971.30px;top:345.00px;width:6.00px;height:81.80px;background:#f88468;border-radius:3px;"></div>
<div class="b" style="left:1981.00px;top:341.00px;width:223.90px;height:89.80px;background:linear-gradient(108deg,#e2c8f9 0%,#fbd8c4 100%);border-radius:15px;"></div>
<div class="t" style="top:348.52px;font-size:26.2px;line-height:26.2px;color:#3c2a5e;-webkit-text-stroke:0.5px #3c2a5e;letter-spacing:0.116px;left:1989.18px;">Демо Почты</div>
<div class="t" style="left:1989.00px;top:395.50px;font-size:25.4px;line-height:25.4px;color:#3c2a5e;-webkit-text-stroke:0.35px #3c2a5e;letter-spacing:0.6px;">13:00<i class="d"></i>14:00</div>
<div class="b" style="left:1970.90px;top:921.00px;width:6.00px;height:81.80px;background:#7c98f8;border-radius:3px;"></div>
<div class="b" style="left:1981.00px;top:917.00px;width:223.70px;height:89.80px;background:linear-gradient(110deg,#c8f4e4 0%,#e0f8b8 100%);border-radius:15px;"></div>
<div class="t" style="top:924.52px;font-size:26.2px;line-height:26.2px;color:#2a5f30;-webkit-text-stroke:0.5px #2a5f30;letter-spacing:0.116px;left:1989.18px;">Демо Почты</div>
<div class="t" style="left:1989.00px;top:971.50px;font-size:25.4px;line-height:25.4px;color:#2a5f30;-webkit-text-stroke:0.35px #2a5f30;letter-spacing:0.6px;">13:00<i class="d"></i>14:00</div>
</div>
</body></html>
